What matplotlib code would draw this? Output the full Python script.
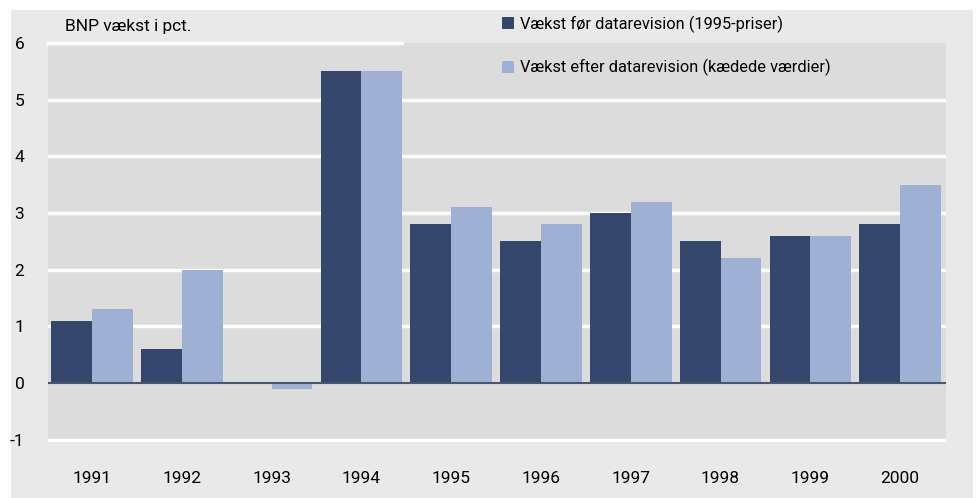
import numpy as np
import matplotlib
matplotlib.use("Agg")
import matplotlib.pyplot as plt
from matplotlib.patches import Rectangle, Patch

## data
years = ["1991", "1992", "1993", "1994", "1995", "1996", "1997", "1998", "1999", "2000"]
foer = [1.1, 0.6, 0.0, 5.5, 2.8, 2.5, 3.0, 2.5, 2.6, 2.8]
efter = [1.3, 2.0, -0.1, 5.5, 3.1, 2.8, 3.2, 2.2, 2.6, 3.5]
labels = ["Vækst før datarevision (1995-priser)",
          "Vækst efter datarevision (kædede værdier)"]
yticks = [-1, 0, 1, 2, 3, 4, 5, 6]

c_dark = "#34466b"
c_light = "#9eb1d5"

plt.rcParams["font.family"] = ["Roboto", "DejaVu Sans"]
fs = 12.5

W, H = 976, 498
fig = plt.figure(figsize=(W/100, H/100), dpi=100, facecolor="white")
# outer grey panel
fig.add_artist(Rectangle((11/W, 0), (973-11)/W, (H-10)/H, transform=fig.transFigure,
                         facecolor="#e9e9e9", edgecolor="none", zorder=-5))

ax = fig.add_axes([48/W, (H-442)/H, (946-48)/W, (442-43)/H])
ax.set_zorder(1)
ax.set_facecolor("#dcdcdc")

x = np.arange(len(years))
w = 0.455
ax.bar(x - w/2, foer, width=w, color=c_dark, zorder=3)
ax.bar(x + w/2, efter, width=w, color=c_light, zorder=3)

ax.set_xlim(-0.49, 9.51)
ax.set_ylim(-1.04, 6)

# gridlines
for t in yticks:
    if t == 6:
        ax.axhline(t, xmin=0, xmax=0.394, color="white", lw=2.5, zorder=1, clip_on=False)
    elif t == 0:
        continue
    else:
        ax.axhline(t, color="white", lw=2.5, zorder=1)
ax.axhline(0, color="#4a5670", lw=1.5, zorder=4)

for s in ax.spines.values():
    s.set_visible(False)
ax.set_yticks(yticks)
ax.set_yticklabels([str(t) for t in yticks], fontsize=fs)
ax.set_xticks(x)
ax.set_xticklabels(years, fontsize=fs)
ax.tick_params(axis="both", length=0)
ax.tick_params(axis="y", pad=17)
ax.tick_params(axis="x", pad=21)

fig.text(65/W, 1 - 27/H, "BNP vækst i pct.", fontsize=fs, va="center", ha="left")

handles = [Patch(facecolor=c_dark, edgecolor="none"), Patch(facecolor=c_light, edgecolor="none")]
fig.legend(handles, labels, loc="upper left", bbox_to_anchor=(495/W, 1 - 9/H),
           frameon=False, fontsize=11.8, handlelength=0.75, handleheight=0.75,
           handletextpad=0.35, labelspacing=1.6, borderaxespad=0)

fig.savefig("out.png", dpi=100, facecolor="white")
